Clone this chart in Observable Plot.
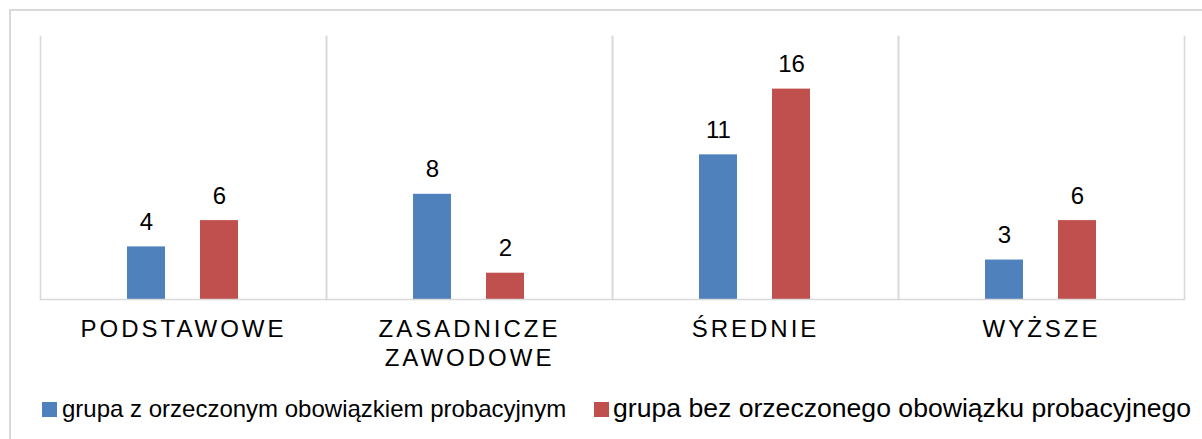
<!DOCTYPE html>
<html>
<head>
<meta charset="utf-8">
<script src="https://cdn.jsdelivr.net/npm/d3@7"></script>
<script src="https://cdn.jsdelivr.net/npm/@observablehq/plot@0.6"></script>
<style>
  html, body { margin: 0; padding: 0; background: #fff; }
  body { font-family: "Liberation Sans", Arial, sans-serif; }
  #wrap { position: relative; width: 1202px; height: 439px; overflow: hidden; background: #fff; }
  #border { position: absolute; left: 9px; top: 9px; width: 1400px; height: 600px; border: 2px solid #d9d9d9; box-sizing: border-box; }
  #chart { position: absolute; left: 0; top: 0; }
  #chart svg { display: block; }
  [aria-label="fx-axis tick label"] text { letter-spacing: 3px; }
  .leg { position: absolute; white-space: nowrap; color: #000; }
  .sw { position: absolute; width: 15px; height: 15px; }
</style>
</head>
<body>
<div id="wrap">
  <div id="border"></div>
  <div id="chart"></div>
  <div id="legend"></div>
</div>
<script>
const categories = ["PODSTAWOWE", "ZASADNICZE ZAWODOWE", "ŚREDNIE", "WYŻSZE"];
const categoryLabels = ["PODSTAWOWE", "ZASADNICZE\nZAWODOWE", "ŚREDNIE", "WYŻSZE"];
const series = [
  "grupa z orzeczonym obowiązkiem probacyjnym",
  "grupa bez orzeczonego obowiązku probacyjnego"
];
const withProbation = [4, 8, 11, 3];
const withoutProbation = [6, 2, 16, 6];
const colors = ["#4F81BD", "#C0504D"];

const data = categories.flatMap((c, i) => [
  {category: c, series: series[0], value: withProbation[i]},
  {category: c, series: series[1], value: withoutProbation[i]}
]);

const grid = "#d9d9d9";

const chart = Plot.plot({
  width: 1202,
  height: 380,
  marginLeft: 39,
  marginRight: 17,
  marginTop: 36,
  marginBottom: 81,
  style: {fontFamily: "'Liberation Sans', Arial, sans-serif", background: "transparent", color: "#000"},
  fx: {domain: categories, padding: 0, label: null, axis: null},
  x: {domain: series, paddingInner: 0.473, paddingOuter: 1.1725, axis: null},
  y: {domain: [0, 20], axis: null},
  color: {domain: series, range: colors},
  marks: [
    Plot.frame({anchor: "left", stroke: grid, strokeWidth: 1.6}),
    Plot.frame({anchor: "right", stroke: grid, strokeWidth: 1.6}),
    Plot.barY(data, {fx: "category", x: "series", y: "value", fill: "series"}),
    Plot.ruleY([0], {stroke: grid, strokeWidth: 1.6}),
    Plot.text(data, {
      fx: "category", x: "series", y: "value",
      text: d => String(d.value),
      lineAnchor: "bottom", dy: -17, fontSize: 24, fill: "#000"
    }),
    Plot.axisFx({
      anchor: "bottom", tickSize: 0, tickPadding: 17.6, fontSize: 24, lineHeight: 1.18,
      label: null, fill: "#000",
      tickFormat: c => categoryLabels[categories.indexOf(c)]
    })
  ]
});
document.getElementById("chart").appendChild(chart);

// legend (HTML, below the plot frame)
const legend = document.getElementById("legend");
const legendItems = [
  {label: series[0], color: colors[0], sx: 42, tx: 62, size: 24, top: 396.7},
  {label: series[1], color: colors[1], sx: 594, tx: 613, size: 26.6, top: 394.5}
];
legendItems.forEach(it => {
  const sw = document.createElement("div");
  sw.className = "sw";
  sw.style.left = it.sx + "px";
  sw.style.top = "402px";
  sw.style.background = it.color;
  legend.appendChild(sw);
  const t = document.createElement("div");
  t.className = "leg";
  t.style.left = it.tx + "px";
  t.style.top = it.top + "px";
  t.style.fontSize = it.size + "px";
  t.style.lineHeight = it.size + "px";
  t.textContent = it.label;
  legend.appendChild(t);
});
</script>
</body>
</html>
